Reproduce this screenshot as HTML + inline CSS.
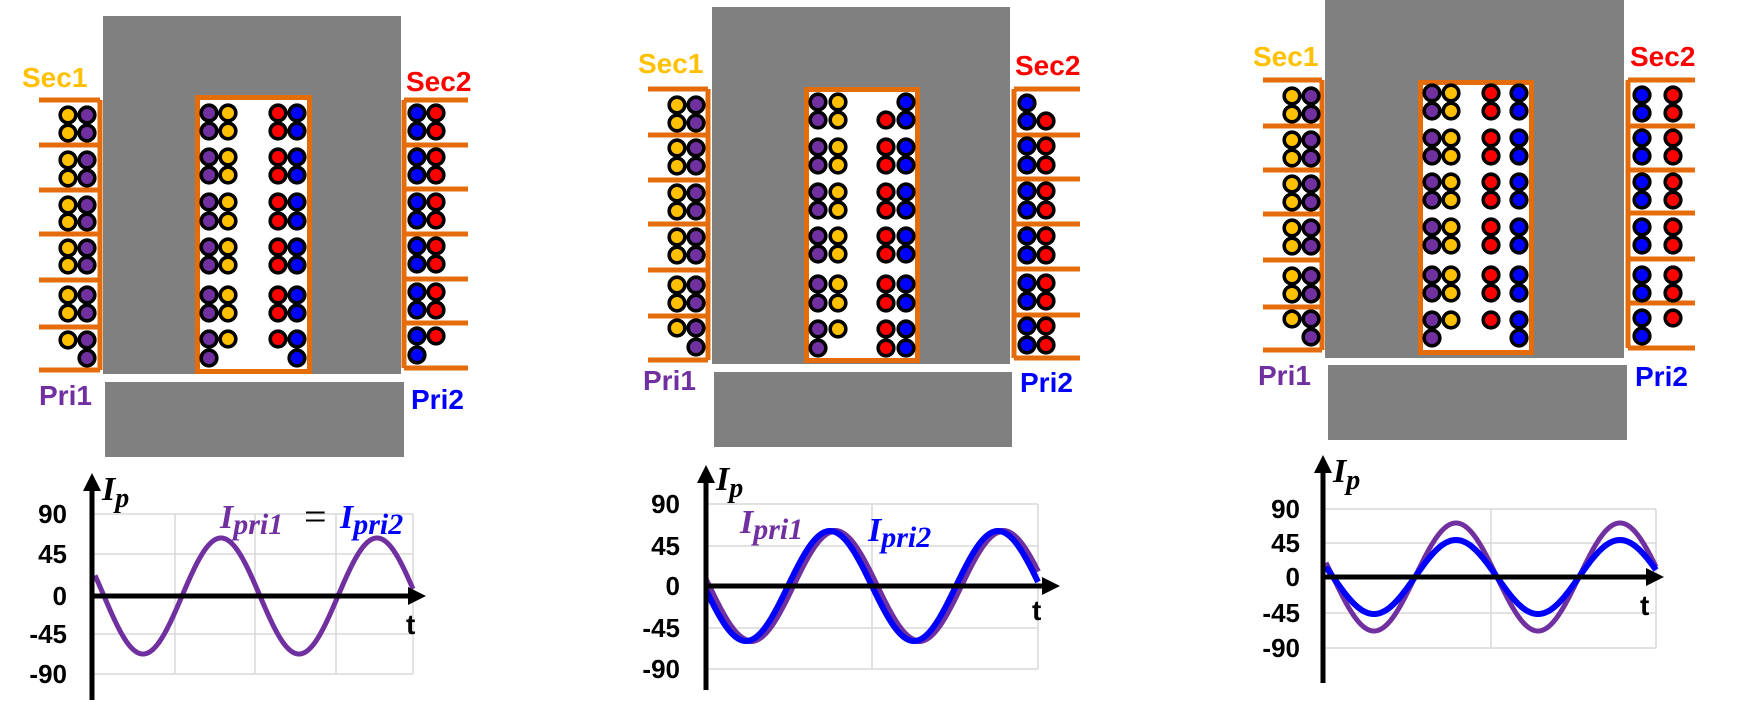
<!DOCTYPE html>
<html><head><meta charset="utf-8">
<style>
html,body{margin:0;padding:0;background:#fff;width:1744px;height:702px;overflow:hidden}
svg{display:block}
.lb{font-family:"Liberation Sans",sans-serif;font-weight:bold;font-size:28px}
.ax{font-family:"Liberation Sans",sans-serif;font-weight:bold;font-size:26px;text-anchor:end;dominant-baseline:central}
.it{font-family:"Liberation Serif",serif;font-weight:bold;font-style:italic}
</style></head>
<body>
<svg id="s" width="1744" height="702" xmlns="http://www.w3.org/2000/svg">
<g id="g"></g>
<text class="lb" x="22" y="87" fill="#FFC000">Sec1</text>
<text class="lb" x="39" y="405" fill="#7030A0">Pri1</text>
<text class="lb" x="406" y="91" fill="#FF0000">Sec2</text>
<text class="lb" x="411" y="409" fill="#0000FF">Pri2</text>
<text class="lb" x="638" y="73" fill="#FFC000">Sec1</text>
<text class="lb" x="643" y="390" fill="#7030A0">Pri1</text>
<text class="lb" x="1015" y="75" fill="#FF0000">Sec2</text>
<text class="lb" x="1020" y="392" fill="#0000FF">Pri2</text>
<text class="lb" x="1253" y="66" fill="#FFC000">Sec1</text>
<text class="lb" x="1258" y="385" fill="#7030A0">Pri1</text>
<text class="lb" x="1630" y="66" fill="#FF0000">Sec2</text>
<text class="lb" x="1635" y="386" fill="#0000FF">Pri2</text>
<g class="ax">
<text x="67" y="514">90</text><text x="67" y="554">45</text><text x="67" y="596">0</text><text x="67" y="634">-45</text><text x="67" y="674">-90</text>
<text x="680" y="504">90</text><text x="680" y="546">45</text><text x="680" y="586">0</text><text x="680" y="628">-45</text><text x="680" y="669">-90</text>
<text x="1300" y="509">90</text><text x="1300" y="543">45</text><text x="1300" y="577">0</text><text x="1300" y="613">-45</text><text x="1300" y="648">-90</text>
</g>
<g class="lb" style="font-size:28px">
<text x="406" y="634">t</text><text x="1032" y="620">t</text><text x="1640" y="615">t</text>
</g>
<text class="it" x="102" y="500" font-size="34">I<tspan font-size="28" dy="7">p</tspan></text>
<text class="it" x="716" y="490" font-size="34">I<tspan font-size="28" dy="7">p</tspan></text>
<text class="it" x="1333" y="482" font-size="34">I<tspan font-size="28" dy="7">p</tspan></text>
<text class="it" x="220" y="528" font-size="34" fill="#7030A0">I<tspan font-size="30" dy="6">pri1</tspan></text>
<text x="304" y="530" font-size="40" font-family="Liberation Serif,serif" fill="#000">=</text>
<text class="it" x="340" y="528" font-size="34" fill="#0000FF">I<tspan font-size="30" dy="6">pri2</tspan></text>
<text class="it" x="740" y="533" font-size="34" fill="#7030A0">I<tspan font-size="30" dy="6">pri1</tspan></text>
<text class="it" x="868" y="541" font-size="34" fill="#0000FF">I<tspan font-size="30" dy="6">pri2</tspan></text>
</svg>
<script>
var NS="http://www.w3.org/2000/svg",G=document.getElementById("g");
function el(t,a){var e=document.createElementNS(NS,t);for(var k in a)e.setAttribute(k,a[k]);G.appendChild(e);return e;}
var C={y:"#FFC000",p:"#7030A0",r:"#FF0000",b:"#0000FF"},OR="#E46C0A",GR="#808080";
function rect(x1,y1,x2,y2,f){el("rect",{x:x1,y:y1,width:x2-x1,height:y2-y1,fill:f});}
function win(x1,y1,x2,y2){el("rect",{x:x1+2.5,y:y1+2.5,width:x2-x1-5,height:y2-y1-5,fill:"#fff",stroke:OR,"stroke-width":5});}
function comb(xv,xe,ts){var d="M"+xv+" "+ts[0]+"V"+ts[ts.length-1];ts.forEach(function(t){d+="M"+xe+" "+t+"H"+xv;});el("path",{d:d,stroke:OR,"stroke-width":5,fill:"none"});}
function circ(x,y,c){el("circle",{cx:x,cy:y,r:7.8,fill:C[c],stroke:"#000","stroke-width":3.6});}
function block(xs,cs,ys){ys.forEach(function(y){xs.forEach(function(x,i){circ(x,y,cs[i]);});});}
rect(103,16,401,374,GR);rect(105,382,404,457,GR);win(195,95,312,374);
rect(712,7,1010,364,GR);rect(714,372,1012,447,GR);win(804,87,920,363);
rect(1325,0,1624,358,GR);rect(1328,365,1627,440,GR);win(1418,80,1534,355);
comb(100,39,[100,145,190,234,280,327,370]);comb(404,468,[100,145,189,234,279,323,368]);
comb(708,648,[89,135,180,224,270,316,360]);comb(1014,1080,[89,135,179,224,269,315,358]);
comb(1322,1263,[80,126,170,214,260,307,350]);comb(1628,1695,[80,126,170,213,259,303,348]);
block([68,87],["y","p"],[115,133,160,178,205,222,248,265,295,313,340]);circ(87,358,"p");
var w1=[113,131,157,175,202,221,247,265,295,313,339];
block([209,228],["p","y"],w1);circ(209,358,"p");
block([278,297],["r","b"],w1);circ(297,358,"b");
block([417,436],["b","r"],[113,131,157,175,202,220,246,264,292,310,336]);circ(417,355,"b");
block([677,696],["y","p"],[105,123,148,166,193,211,237,255,285,303,328]);circ(696,347,"p");
block([818,838],["p","y"],[102,120,147,165,192,210,236,254,284,303,329]);circ(818,348,"p");
block([886,906],["r","b"],[120,147,165,192,210,236,254,284,303,329,348]);circ(906,102,"b");
block([1027,1046],["b","r"],[121,146,165,191,210,236,255,283,301,326,345]);circ(1027,103,"b");
block([1292,1311],["y","p"],[96,114,140,158,184,202,228,246,276,294,319]);circ(1311,337,"p");
var w3=[93,111,138,156,182,200,227,245,275,293,320];
block([1432,1451],["p","y"],w3);circ(1432,338,"p");
block([1491,1519],["r","b"],w3);circ(1519,338,"b");
block([1642,1673],["b","r"],[95,113,138,156,182,200,227,245,275,293,318]);circ(1642,336,"b");
function line(x1,y1,x2,y2,c,w){el("line",{x1:x1,y1:y1,x2:x2,y2:y2,stroke:c,"stroke-width":w});}
function grid(x1,x2,hs,vs,yt,yb){hs.forEach(function(h){line(x1,h,x2,h,"#d9d9d9",1.5);});vs.forEach(function(v){line(v,yt,v,yb,"#d9d9d9",1.5);});}
function sine(x1,x2,y0,A,z,P,c,w){var d="";for(var x=x1;x<=x2;x+=1){var y=y0+A*Math.sin(2*Math.PI*(x-z)/P);d+=(d?"L":"M")+x+" "+y.toFixed(2);}el("path",{d:d,stroke:c,"stroke-width":w,fill:"none"});}
function yax(x,top,bot){line(x,top+14,x,bot,"#000",5);el("polygon",{points:(x-9)+","+(top+18)+" "+x+","+top+" "+(x+9)+","+(top+18),fill:"#000"});}
function xax(x1,x2,y,arrow){line(x1,y,arrow?x2-14:x2,y,"#000",5);if(arrow)el("polygon",{points:(x2-18)+","+(y-9)+" "+x2+","+y+" "+(x2-18)+","+(y+9),fill:"#000"});}
grid(92,413,[514,554,634,674],[175,255,336,413],514,674);
sine(95,413,596,58,104,156,"#7030A0",5);
xax(92,426,596,true);yax(92,473,700);
grid(706,1038,[504,546,628,669],[872,1038],504,669);
sine(706,1038,586,55,709,168,"#7030A0",6);sine(706,1038,586,55,704,168,"#0000FF",6);
xax(706,1060,586,true);yax(706,465,690);
grid(1323,1656,[509,543,613,648],[1491,1656],509,648);
sine(1326,1656,577,54,1333,164,"#7030A0",5);sine(1326,1656,577,37,1333,164,"#0000FF",6);
xax(1323,1664,577,true);yax(1323,455,683);
</script>
</body></html>
